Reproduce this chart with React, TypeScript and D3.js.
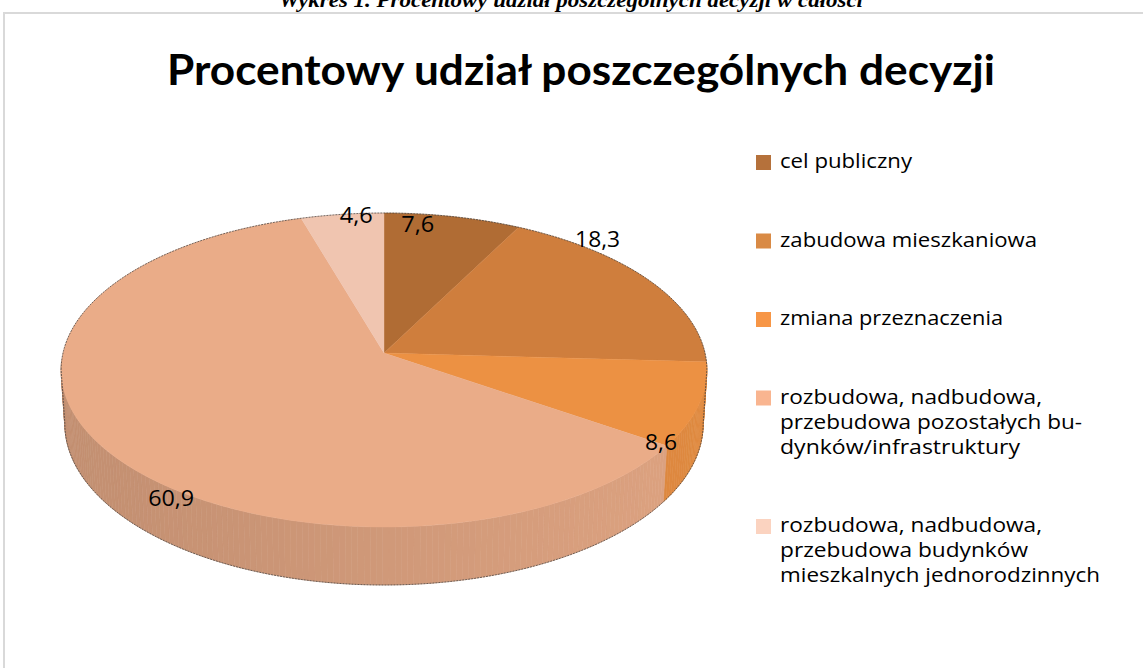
import React from 'react';
import * as d3 from 'd3';

// ---------- data ----------
const categories = [
  'cel publiczny',
  'zabudowa mieszkaniowa',
  'zmiana przeznaczenia',
  'rozbudowa, nadbudowa, przebudowa pozostałych budynków/infrastruktury',
  'rozbudowa, nadbudowa, przebudowa budynków mieszkalnych jednorodzinnych',
];
const values = [7.6, 18.3, 8.6, 60.9, 4.6];
const valueLabels = ['7,6', '18,3', '8,6', '60,9', '4,6'];
const legendLines = [
  ['cel publiczny'],
  ['zabudowa mieszkaniowa'],
  ['zmiana przeznaczenia'],
  ['rozbudowa, nadbudowa,', 'przebudowa pozostałych bu-', 'dynków/infrastruktury'],
  ['rozbudowa, nadbudowa,', 'przebudowa budynków', 'mieszkalnych jednorodzinnych'],
];
const chartTitle = 'Procentowy udział poszczególnych decyzji';
const caption = 'Wykres 1. Procentowy udział poszczególnych decyzji w całości';

// ---------- styles / layout ----------
const topColors = ['#B06C34', '#CF7E3D', '#EC9143', '#EAAC88', '#F0C5B0'];
const legendColors = ['#B5713B', '#D98A45', '#F79646', '#F9B590', '#FBD3C0'];
const legendLineWidths = [[132], [257], [223], [262, 302, 240], [262, 248, 320]];
const labelWidths = [33, 45, 32, 46, 33];
const labelOffsets: [number, number][] = [
  [-35, 15],
  [-51, -33],
  [-38, 45],
  [64, 55],
  [14, 9],
];

// ---------- projection of a tilted disc with perspective ----------
const CX = 384, CY = 353, RX = 321, RY_BACK = 140, RY_FRONT = 174, BOTTOM_FRONT = 585;
const kk = RY_FRONT / RY_BACK;
const mm = (kk + 1) / (kk - 1);
const sA = (RY_BACK * (mm + 1)) / (RX * mm);
const cA = Math.sqrt(1 - sA * sA);
const DD = cA * mm;
const FF = RX * DD;
const qq = (BOTTOM_FRONT - CY) / FF;
const DEPTH = (qq * (DD - cA) - sA) / (cA - qq * sA);

function project(theta: number, r: number, h: number): [number, number] {
  const x = r * Math.sin(theta);
  const z = -r * Math.cos(theta);
  const Yc = z * sA - h * cA;
  const Zc = DD - z * cA - h * sA;
  return [CX + (x * FF) / Zc, CY + (Yc * FF) / Zc];
}

const TAU = Math.PI * 2;
const line = d3.line<[number, number]>().x((d) => d[0]).y((d) => d[1]);

function arcPoints(a0: number, a1: number, h: number): [number, number][] {
  const n = Math.max(2, Math.ceil(Math.abs(a1 - a0) / (Math.PI / 180)));
  return d3.range(n + 1).map((i) => project(a0 + ((a1 - a0) * i) / n, 1, h));
}

export default function App() {
  const pie = d3.pie<number>().sort(null).value((d) => d);
  const arcs = pie(values);

  const samples = d3.range(0, 361).map((deg) => {
    const t = (deg * Math.PI) / 180;
    return { t, x: project(t, 1, 0)[0] };
  });
  const right = samples.reduce((a, b) => (b.x > a.x ? b : a));
  const left = samples.reduce((a, b) => (b.x < a.x ? b : a));
  const thetaR = right.t;
  const thetaL = left.t;
  const shade = d3.scaleLinear().domain([left.x, right.x]).range([0.83, 0.945]).clamp(true);

  const segs: { d: string; fill: string; z: number }[] = [];
  arcs.forEach((a, i) => {
    const step = Math.PI / 180;
    for (let t = a.startAngle; t < a.endAngle - 1e-9; t += step) {
      const t1 = Math.min(t + step, a.endAngle);
      const tm = (t + t1) / 2;
      if (tm < thetaR - 0.05 || tm > thetaL + 0.05) continue;
      const p = [project(t, 1, 0), project(t1, 1, 0), project(t1, 1, -DEPTH), project(t, 1, -DEPTH)];
      const f = shade(project(tm, 1, 0)[0]);
      const base = d3.rgb(topColors[i]);
      const col = d3.rgb(base.r * f, base.g * f, base.b * f).formatHex();
      segs.push({ d: line(p as [number, number][]) + 'Z', fill: col, z: -Math.cos(tm) });
    }
  });
  segs.sort((a, b) => a.z - b.z);

  const tops = arcs.map((a, i) => {
    const pts: [number, number][] = [project(0, 0, 0), ...arcPoints(a.startAngle, a.endAngle, 0)];
    return { d: line(pts) + 'Z', fill: topColors[i] };
  });

  const outlinePts: [number, number][] = [
    ...arcPoints(thetaL, thetaR + TAU, 0),
    ...arcPoints(thetaR, thetaL, -DEPTH),
  ];
  const outline = line(outlinePts) + 'Z';

  const labels = arcs.map((a, i) => {
    const mid = (a.startAngle + a.endAngle) / 2;
    const [x, y] = project(mid, 1, 0);
    return { x: x + labelOffsets[i][0], y: y + labelOffsets[i][1], text: valueLabels[i], w: labelWidths[i] };
  });

  const LEG_X = 756, LEG_TEXT_X = 780, LEG_FIRST = 168, LINE_H = 25, GAP = 53.5;
  let yCursor = LEG_FIRST;
  const legend = legendLines.map((lines, i) => {
    const y0 = yCursor;
    yCursor += lines.length * LINE_H + GAP;
    return { lines, y0, color: legendColors[i], name: categories[i], widths: legendLineWidths[i] };
  });

  const titleFont = 'Lato, "Open Sans", "DejaVu Sans", sans-serif';
  const font = '"Open Sans", Lato, "DejaVu Sans", sans-serif';

  return (
    <svg width={1143} height={668} style={{ position: 'absolute', left: 0, top: 0, background: '#fff' }}>
      <rect x={0} y={0} width={1143} height={668} fill="#fff" />
      <text
        x={571}
        y={7}
        textAnchor="middle"
        fontFamily='"Liberation Serif", "Times New Roman", serif'
        fontWeight="bold"
        fontStyle="italic"
        fontSize={20}
        textLength={584}
        lengthAdjust="spacingAndGlyphs"
      >
        {caption}
      </text>
      <rect x={4} y={13} width={1300} height={800} fill="#fff" stroke="#D9D9D9" strokeWidth={2} />
      <text
        x={581}
        y={85}
        textAnchor="middle"
        fontFamily={titleFont}
        fontWeight="bold"
        fontSize={42}
        textLength={828}
        lengthAdjust="spacingAndGlyphs"
        fill="#000"
      >
        {chartTitle}
      </text>

      <g>
        {segs.map((s, i) => (
          <path key={'w' + i} d={s.d} fill={s.fill} stroke={s.fill} strokeWidth={0.6} />
        ))}
        {tops.map((t, i) => (
          <path key={'t' + i} d={t.d} fill={t.fill} stroke={t.fill} strokeWidth={0.4} />
        ))}
        <path d={outline} fill="none" stroke="#3a3a3a" strokeWidth={1} strokeDasharray="2 1" opacity={0.7} />
      </g>

      <g fontFamily={font} fontSize={21} fill="#000">
        {labels.map((l, i) => (
          <text key={i} x={l.x} y={l.y} textAnchor="middle" textLength={l.w} lengthAdjust="spacingAndGlyphs">
            {l.text}
          </text>
        ))}
      </g>

      <g fontFamily={font} fontSize={20} fill="#000">
        {legend.map((it, i) => (
          <g key={i}>
            <rect x={LEG_X} y={it.y0 - 13} width={15} height={15} fill={it.color} />
            {it.lines.map((ln, j) => (
              <text
                key={j}
                x={LEG_TEXT_X}
                y={it.y0 + j * LINE_H}
                textLength={it.widths[j]}
                lengthAdjust="spacingAndGlyphs"
              >
                {ln}
              </text>
            ))}
          </g>
        ))}
      </g>
    </svg>
  );
}
